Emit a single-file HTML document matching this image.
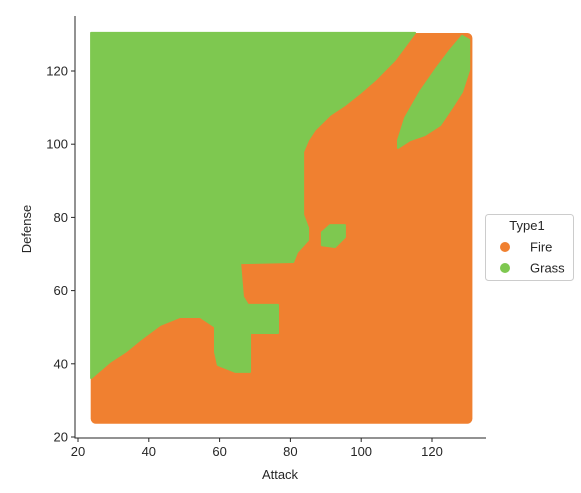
<!DOCTYPE html>
<html><head><meta charset="utf-8"><style>
body{margin:0;background:#fff;font-family:"Liberation Sans",sans-serif}
svg{display:block}
text{font-family:"Liberation Sans",sans-serif;fill:#262626}
</style></head><body>
<svg id="chart" width="581" height="493" viewBox="0 0 581 493"></svg>
<script>
const xTicks=[20,40,60,80,100,120];
const yTicks=[20,40,60,80,100,120];
const gridAttack=[25,130];
const gridDefense=[25,129];
const categories=["Fire","Grass"];
const colors=["#F08030","#7EC850"];
const grassMainAttack=[23.7,115.2,109.5,103.9,99.7,95.4,91.2,86.9,85.0,83.6,83.6,85.0,85.0,81.9,80.8,65.8,66.6,68.0,76.5,76.5,68.6,68.6,64.4,59.5,58.7,58.7,54.5,48.8,43.2,37.5,33.3,29.0,23.7];
const grassMainDefense=[130.4,130.4,123.0,117.5,114.0,110.7,108.0,103.9,101.1,97.9,80.7,77.1,73.8,70.5,67.8,67.5,58.3,56.1,56.1,48.4,48.4,37.8,37.8,39.7,43.2,50.1,52.8,52.8,50.6,46.5,43.2,40.5,36.1];
const grassBlobAttack=[88.9,91.2,95.4,95.4,92.6,88.9];
const grassBlobDefense=[75.9,77.9,77.9,74.6,71.9,72.4];
const grassStripeAttack=[110.4,113.8,118.0,122.3,125.6,128.5,130.5,130.5,128.5,125.1,120.9,116.6,112.4,110.4];
const grassStripeDefense=[99.0,101.1,102.5,105.2,109.9,114.3,120.3,128.5,129.6,125.7,120.3,114.3,107.2,101.1];

const NS="http://www.w3.org/2000/svg";
const svg=document.getElementById('chart');
const X=v=>7.2+v*3.54;
const Y=v=>437-(v-20)*3.66;
function mk(t,a){const e=document.createElementNS(NS,t);for(const k in a)e.setAttribute(k,a[k]);svg.appendChild(e);return e;}

// orange background region
const r=mk('rect',{x:X(gridAttack[0])-5,y:Y(gridDefense[1])-5,width:X(gridAttack[1])-X(gridAttack[0])+10,height:Y(gridDefense[0])-Y(gridDefense[1])+10,rx:5,fill:colors[0]});



function poly(ax,dy,name){
  const pts=ax.map((a,i)=>X(a)+','+Y(dy[i])).join(' ');
  const p=mk('polygon',{points:pts,fill:colors[1],'stroke':colors[1],'stroke-width':2,'stroke-linejoin':'round'});
  
  
}
poly(grassMainAttack,grassMainDefense,'grass-region-main');
poly(grassBlobAttack,grassBlobDefense,'grass-region-blob');
poly(grassStripeAttack,grassStripeDefense,'grass-region-stripe');

// axes
const ax1=mk('line',{x1:75,y1:16,x2:75,y2:438.5,stroke:'#262626','stroke-width':1});


const ax2=mk('line',{x1:74.5,y1:438,x2:486,y2:438,stroke:'#262626','stroke-width':1});


xTicks.forEach(v=>{
  mk('line',{x1:X(v),y1:438,x2:X(v),y2:442,stroke:'#262626'});
  const t=mk('text',{x:X(v),y:456,'text-anchor':'middle','font-size':13});
  t.textContent=v;
  
  
});
yTicks.forEach(v=>{
  mk('line',{x1:71,y1:Y(v),x2:75,y2:Y(v),stroke:'#262626'});
  const t=mk('text',{x:68,y:Y(v)+4.5,'text-anchor':'end','font-size':13});
  t.textContent=v;
  
  
});
const xl=mk('text',{x:280,y:479,'text-anchor':'middle','font-size':13});
xl.textContent='Attack';


const yl=mk('text',{x:0,y:0,'text-anchor':'middle','font-size':13,transform:'translate(31,229) rotate(-90)'});
yl.textContent='Defense';



// legend
const lg=mk('rect',{x:485.5,y:214.5,width:88,height:66,rx:3,fill:'#fff',stroke:'#ccc'});


const lt=mk('text',{x:527,y:230,'text-anchor':'middle','font-size':13});
lt.textContent='Type1';


categories.forEach((c,i)=>{
  const m=mk('circle',{cx:505,cy:247+i*21,r:5,fill:colors[i]});
  
  
  const t=mk('text',{x:530,y:251.5+i*21,'font-size':13});
  t.textContent=c;
  
  
});
</script>
</body></html>
